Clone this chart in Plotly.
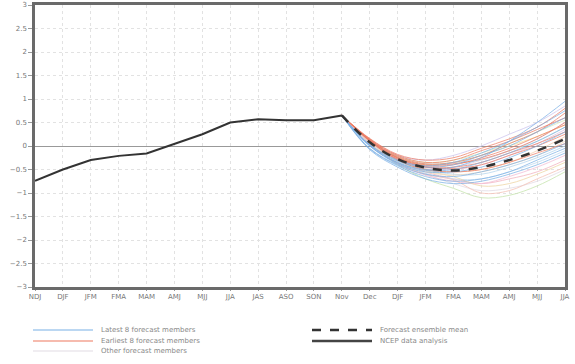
import plotly.graph_objects as go

# season labels (observed period then forecast period)
seasons = ["NDJ", "DJF", "JFM", "FMA", "MAM", "AMJ", "MJJ", "JJA", "JAS", "ASO",
           "SON", "Nov", "Dec", "DJF", "JFM", "FMA", "MAM", "AMJ", "MJJ", "JJA"]
x_all = list(range(len(seasons)))

# NCEP analysis, NDJ .. Nov
ncep = [-0.74, -0.5, -0.3, -0.21, -0.16, 0.04, 0.25, 0.5, 0.57, 0.55, 0.55, 0.65]

# forecast period x positions: Nov .. JJA
x_fc = x_all[11:]

ens_mean = [0.65, 0.08, -0.28, -0.46, -0.52, -0.45, -0.3, -0.1, 0.15]

latest = [
    [0.65, 0.0, -0.35, -0.5, -0.45, -0.25, 0.1, 0.5, 0.95],
    [0.65, -0.05, -0.4, -0.6, -0.65, -0.55, -0.4, -0.2, 0.05],
    [0.65, 0.02, -0.32, -0.45, -0.4, -0.2, 0.0, 0.3, 0.6],
    [0.65, -0.08, -0.45, -0.7, -0.8, -0.75, -0.6, -0.4, -0.15],
    [0.65, 0.0, -0.38, -0.55, -0.55, -0.45, -0.25, 0.0, 0.3],
    [0.65, 0.03, -0.3, -0.42, -0.35, -0.15, 0.1, 0.4, 0.75],
    [0.65, -0.06, -0.42, -0.65, -0.75, -0.7, -0.55, -0.3, -0.05],
    [0.65, 0.01, -0.36, -0.52, -0.5, -0.35, -0.15, 0.1, 0.4],
]

earliest = [
    [0.65, 0.15, -0.2, -0.35, -0.3, -0.1, 0.1, 0.35, 0.6],
    [0.65, 0.12, -0.25, -0.42, -0.4, -0.25, -0.05, 0.2, 0.45],
    [0.65, 0.14, -0.22, -0.38, -0.35, -0.2, 0.05, 0.3, 0.7],
    [0.65, 0.1, -0.28, -0.45, -0.45, -0.35, -0.15, 0.05, 0.3],
    [0.65, 0.13, -0.24, -0.4, -0.38, -0.28, -0.1, 0.15, 0.5],
    [0.65, 0.16, -0.18, -0.3, -0.25, -0.05, 0.15, 0.4, 0.8],
    [0.65, 0.11, -0.3, -0.5, -0.55, -0.5, -0.35, -0.15, 0.05],
    [0.65, 0.12, -0.26, -0.44, -0.48, -0.4, -0.2, 0.0, 0.25],
]

others = [
    [0.65, 0.05, -0.35, -0.6, -0.8, -0.95, -0.9, -0.75, -0.5],
    [0.65, 0.08, -0.3, -0.55, -0.7, -0.8, -0.7, -0.55, -0.3],
    [0.65, 0.06, -0.4, -0.7, -0.9, -1.1, -1.05, -0.85, -0.55],
    [0.65, 0.1, -0.25, -0.4, -0.35, -0.2, 0.0, 0.2, 0.45],
    [0.65, 0.12, -0.2, -0.3, -0.2, 0.0, 0.25, 0.5, 0.85],
    [0.65, 0.07, -0.33, -0.5, -0.6, -0.6, -0.45, -0.25, 0.0],
    [0.65, 0.09, -0.28, -0.48, -0.55, -0.5, -0.35, -0.1, 0.2],
    [0.65, 0.04, -0.38, -0.62, -0.75, -0.8, -0.65, -0.45, -0.2],
    [0.65, 0.11, -0.22, -0.35, -0.3, -0.15, 0.05, 0.3, 0.55],
    [0.65, 0.06, -0.36, -0.58, -0.7, -0.7, -0.55, -0.35, -0.1],
    [0.65, 0.08, -0.3, -0.52, -0.65, -0.85, -0.8, -0.6, -0.35],
    [0.65, 0.1, -0.27, -0.45, -0.5, -0.4, -0.2, 0.05, 0.35],
    [0.65, 0.05, -0.37, -0.6, -0.72, -1.0, -0.95, -0.7, -0.45],
    [0.65, 0.13, -0.24, -0.38, -0.35, -0.3, -0.1, 0.1, 0.4],
    [0.65, 0.07, -0.34, -0.55, -0.62, -0.55, -0.4, -0.2, 0.1],
    [0.65, 0.09, -0.29, -0.46, -0.45, -0.3, -0.1, 0.15, 0.5],
]

other_colors = ["#e4dde6", "#f4b6c2", "#c8e6b0", "#f5e6a0", "#d0c8f0", "#b8d8f0",
                "#f8d0b0", "#f4c0d8", "#d8ecc0", "#c0dcf4", "#f0d8a8", "#e0c8e8",
                "#f6c4b8", "#cce4d8", "#f2dcc0", "#d4d4f0"]
RED = "rgb(238,120,95)"
BLUE = "rgb(120,175,230)"
OTHER = "#e2dce4"

W, H = 575, 364
ML, MR, MT, MB = 35, 10, 5, 77

fig = go.Figure()

for i, m in enumerate(others):
    fig.add_trace(go.Scatter(
        x=x_fc, y=m, mode="lines", line=dict(color=other_colors[i], width=1, shape="spline"),
        name="Other forecast members", opacity=0.8, hoverinfo="skip"))

for m in earliest:
    fig.add_trace(go.Scatter(
        x=x_fc, y=m, mode="lines", line=dict(color=RED, width=1, shape="spline"),
        name="Earliest 8 forecast members", opacity=0.7, hoverinfo="skip"))

for m in latest:
    fig.add_trace(go.Scatter(
        x=x_fc, y=m, mode="lines", line=dict(color=BLUE, width=1, shape="spline"),
        name="Latest 8 forecast members", opacity=0.7, hoverinfo="skip"))

fig.add_trace(go.Scatter(
    x=x_fc, y=ens_mean, mode="lines", line=dict(color="#333", width=2.5, dash="dash", shape="spline"),
    name="Forecast ensemble mean"))

fig.add_trace(go.Scatter(
    x=x_all[:len(ncep)], y=ncep, mode="lines", line=dict(color="#333", width=2),
    name="NCEP data analysis"))


# legend drawn by hand (plotly's own rows are too tall for this layout)
def px_x(p):
    return (p - ML) / (W - ML - MR)


def px_y(p):
    return (H - MB - p) / (H - MT - MB)


legend_items = [
    ("Latest 8 forecast members", BLUE, "solid", 1.2, 33, 330),
    ("Earliest 8 forecast members", RED, "solid", 1.2, 33, 341),
    ("Other forecast members", OTHER, "solid", 1.2, 33, 351),
    ("Forecast ensemble mean", "#333", "dash", 2.5, 312, 330),
    ("NCEP data analysis", "#444", "solid", 2.5, 312, 341),
]
for label, col, dash, lw, x0, yy in legend_items:
    fig.add_shape(type="line", xref="paper", yref="paper",
                  x0=px_x(x0), x1=px_x(x0 + 60), y0=px_y(yy), y1=px_y(yy),
                  line=dict(color=col, width=lw, dash=dash))
    fig.add_annotation(xref="paper", yref="paper", x=px_x(x0 + 66), y=px_y(yy),
                       xanchor="left", yanchor="middle", showarrow=False, text=label,
                       font=dict(family="DejaVu Sans", size=7, color="#888"))

tick_font = dict(family="DejaVu Sans", size=7, color="#777")

fig.update_layout(
    width=W, height=H,
    margin=dict(l=ML, r=MR, t=MT, b=MB, autoexpand=False),
    paper_bgcolor="white", plot_bgcolor="white",
    showlegend=False,
)
fig.update_xaxes(
    range=[0, 19], tickvals=x_all, ticktext=seasons, tickfont=tick_font,
    showgrid=True, gridcolor="#e2e2e2", griddash="dot", gridwidth=1,
    showline=True, linecolor="#6a6a6a", linewidth=2.5, mirror=True,
    ticks="outside", ticklen=1, tickcolor="#999", zeroline=False, fixedrange=True)
fig.update_yaxes(
    range=[-3, 3], dtick=0.5, tickfont=tick_font,
    showgrid=True, gridcolor="#e2e2e2", griddash="dot", gridwidth=1,
    showline=True, linecolor="#6a6a6a", linewidth=2.5, mirror=True,
    ticks="outside", ticklen=4, tickcolor="#999",
    zeroline=True, zerolinecolor="#999", zerolinewidth=1, fixedrange=True)

# page body has a default 8px margin; drop it so the figure sits at the corner
fig.write_html("out.html", config={"displayModeBar": False},
               post_script="document.body.style.margin='0';")
